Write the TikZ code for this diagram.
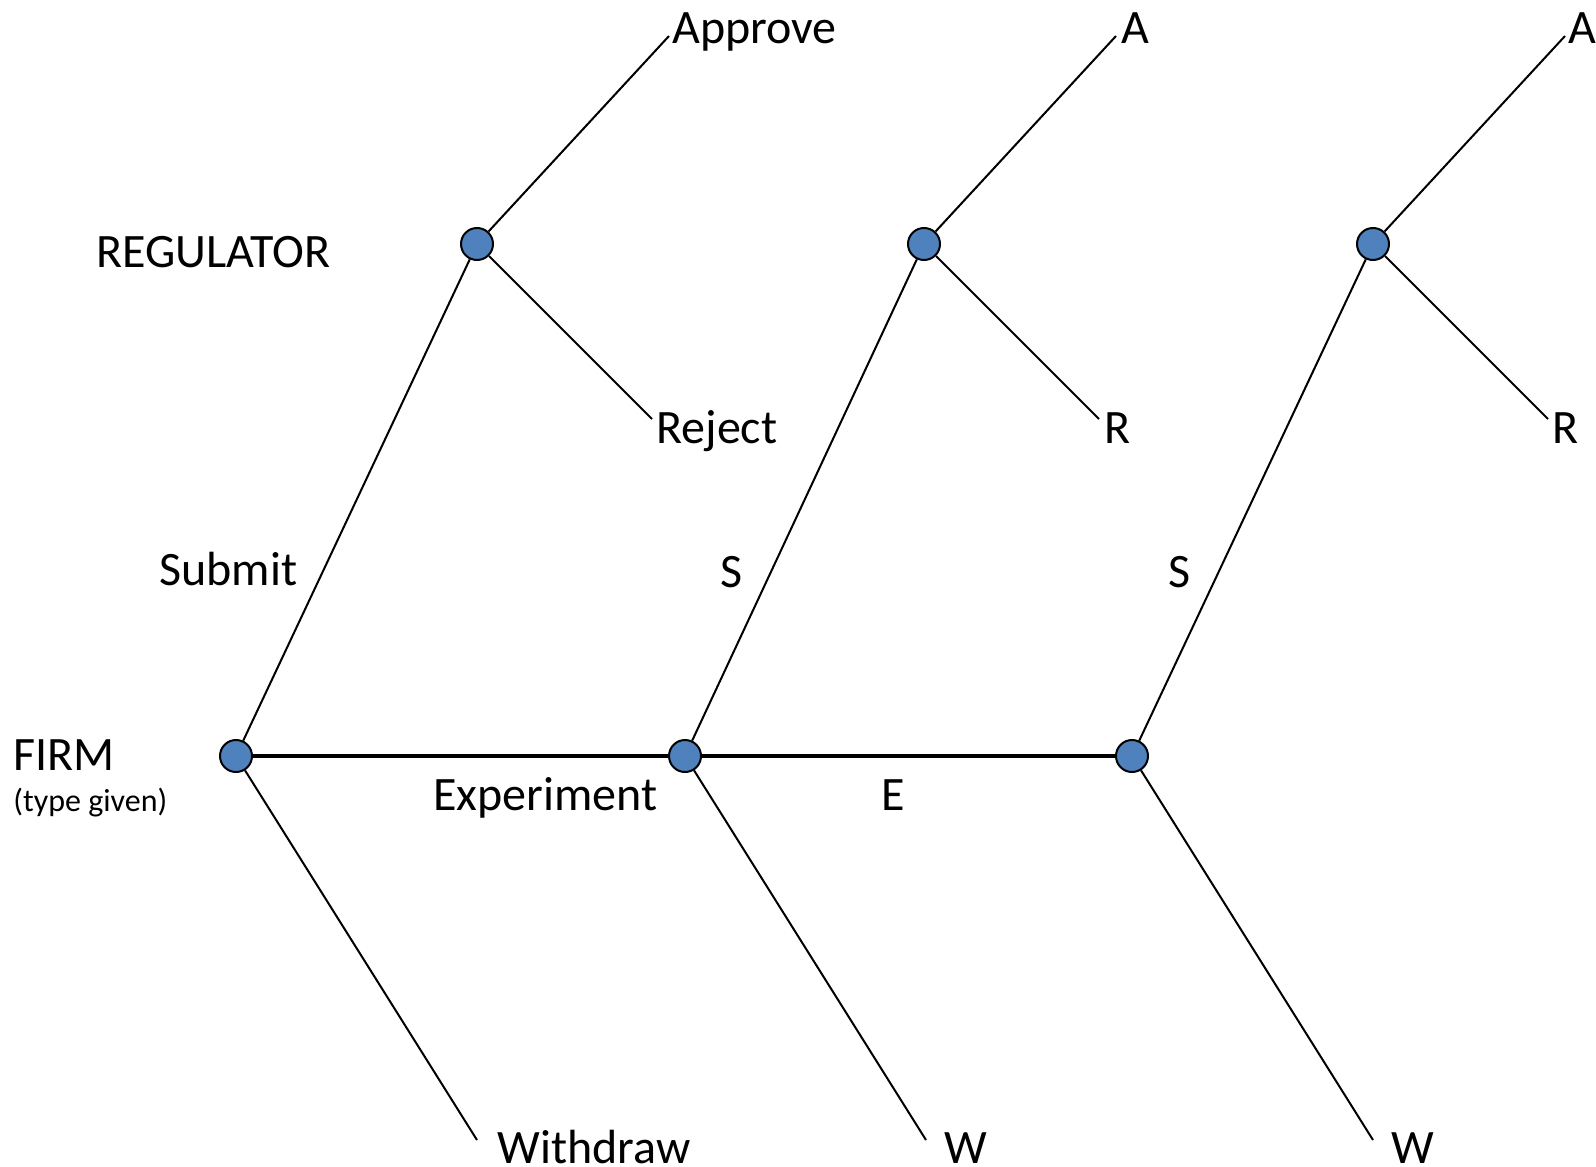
\documentclass[tikz,border=0pt]{standalone}
\usepackage{fontspec}
\setmainfont{Carlito}
\usepackage{tikz}
\usetikzlibrary{positioning}
\definecolor{nodeblue}{HTML}{4F81BD}
\tikzset{
  tree-node/.style={circle, draw=black, fill=nodeblue, line width=1pt, minimum size=16pt, inner sep=0pt},
  tree-label/.style={anchor=base west, inner sep=0pt, font=\fontsize{24}{28}\selectfont},
  tree-small/.style={anchor=base west, inner sep=0pt, font=\fontsize{16}{19}\selectfont},
  tree-edge/.style={draw=black, line width=1pt},
  tree-main/.style={draw=black, line width=1.7pt}
}

\begin{document}
\begin{tikzpicture}[x=0.5pt, y=-0.5pt]
  \useasboundingbox (0,0) rectangle (1596,1167);
  % decision nodes
  \node[tree-node] (firm1) at (236,756) {};
  \node[tree-node] (firm2) at (685,756) {};
  \node[tree-node] (firm3) at (1132,756) {};
  \node[tree-node] (reg1) at (477,244) {};
  \node[tree-node] (reg2) at (924,244) {};
  \node[tree-node] (reg3) at (1373,244) {};
  % leaf ends
  \coordinate (app1) at (669,36);
  \coordinate (app2) at (1116,36);
  \coordinate (app3) at (1565,36);
  \coordinate (rej1) at (652,419);
  \coordinate (rej2) at (1099,419);
  \coordinate (rej3) at (1548,419);
  \coordinate (wd1) at (477,1140);
  \coordinate (wd2) at (926,1140);
  \coordinate (wd3) at (1373,1140);
  % branches
  \draw[tree-main] (firm1) -- (firm2);
  \draw[tree-main] (firm2) -- (firm3);
  \draw[tree-edge] (firm1) -- (reg1);
  \draw[tree-edge] (firm2) -- (reg2);
  \draw[tree-edge] (firm3) -- (reg3);
  \draw[tree-edge] (firm1) -- (wd1);
  \draw[tree-edge] (firm2) -- (wd2);
  \draw[tree-edge] (firm3) -- (wd3);
  \draw[tree-edge] (reg1) -- (app1);
  \draw[tree-edge] (reg2) -- (app2);
  \draw[tree-edge] (reg3) -- (app3);
  \draw[tree-edge] (reg1) -- (rej1);
  \draw[tree-edge] (reg2) -- (rej2);
  \draw[tree-edge] (reg3) -- (rej3);
  % players
  \node[tree-label] (regulator) at (96,267) {REGULATOR};
  \node[tree-label] (firm) at (13,770) {FIRM};
  \node[tree-small] (type) at (13,811) {(type given)};
  % action labels
  \node[tree-label] (approve) at (672,43) {Approve};
  \node[tree-label] (a2) at (1121,43) {A};
  \node[tree-label] (a3) at (1568,43) {A};
  \node[tree-label] (reject) at (656,443) {Reject};
  \node[tree-label] (r2) at (1104,443) {R};
  \node[tree-label] (r3) at (1552,443) {R};
  \node[tree-label] (submit) at (159,585) {Submit};
  \node[tree-label] (s2) at (720,587) {S};
  \node[tree-label] (s3) at (1168,587) {S};
  \node[tree-label] (experiment) at (433,810) {Experiment};
  \node[tree-label] (e2) at (881,810) {E};
  \node[tree-label] (withdraw) at (497,1163) {Withdraw};
  \node[tree-label] (w2) at (944,1163) {W};
  \node[tree-label] (w3) at (1391,1163) {W};
\end{tikzpicture}
\end{document}
